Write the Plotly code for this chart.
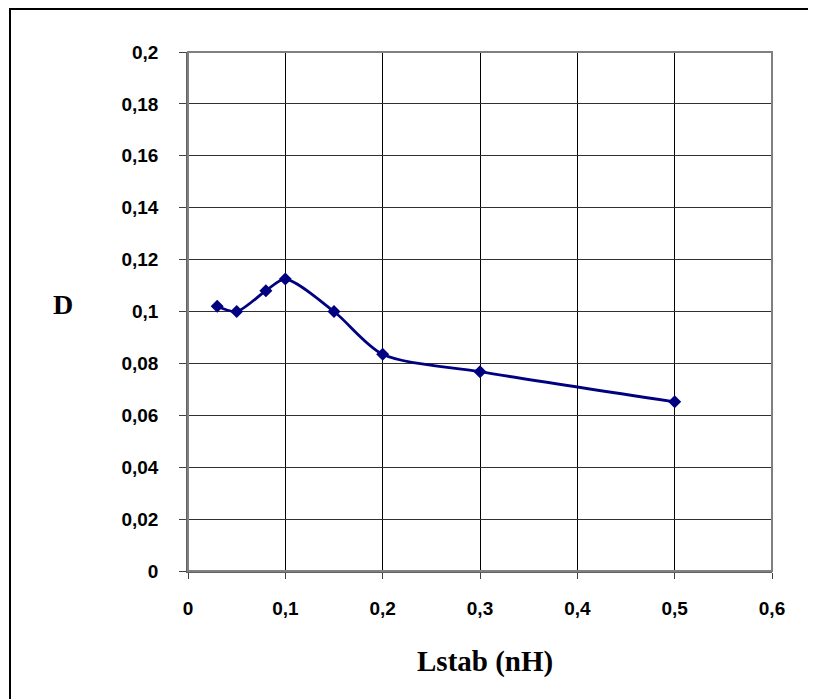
import plotly.graph_objects as go

lstab = [0.03, 0.05, 0.08, 0.1, 0.15, 0.2, 0.3, 0.5]
d_vals = [0.102, 0.100, 0.108, 0.1125, 0.100, 0.0835, 0.0768, 0.0652]

x_ticks = [0, 0.1, 0.2, 0.3, 0.4, 0.5, 0.6]
x_labels = ["0", "0,1", "0,2", "0,3", "0,4", "0,5", "0,6"]
y_ticks = [0, 0.02, 0.04, 0.06, 0.08, 0.1, 0.12, 0.14, 0.16, 0.18, 0.2]
y_labels = ["0", "0,02", "0,04", "0,06", "0,08", "0,1", "0,12", "0,14", "0,16", "0,18", "0,2"]

# page has an 8px body margin; figure starts at (8, 8)
OFF = 8
W, H = 808, 691
L, T = 188 - OFF, 52 - OFF
R = W - (772 - OFF)
B = H - (571 - OFF)
pw, ph = W - L - R, H - T - B

fig = go.Figure()
fig.add_trace(go.Scatter(
    x=lstab, y=d_vals, mode="lines+markers",
    line=dict(color="#000080", width=2.8, shape="spline", smoothing=0.8),
    marker=dict(symbol="diamond", size=10, color="#000080"),
    showlegend=False, cliponaxis=False,
))

tickfont = dict(family="Liberation Sans, Arial", size=19, color="black", weight="bold")
fig.update_layout(
    width=W, height=H,
    margin=dict(l=L, r=R, t=T, b=B, pad=0),
    paper_bgcolor="white", plot_bgcolor="white",
    xaxis=dict(
        range=[0, 0.6], tickvals=x_ticks, ticktext=x_labels,
        showgrid=True, gridcolor="black", gridwidth=1,
        zeroline=False, showline=True, linecolor="#606060", linewidth=1.5,
        mirror=False, ticks="outside", ticklen=6, tickcolor="#404040",
        tickfont=tickfont, ticklabelstandoff=13,
    ),
    yaxis=dict(
        range=[0, 0.2], tickvals=y_ticks, ticktext=y_labels,
        showgrid=True, gridcolor="#303030", gridwidth=1.2,
        zeroline=False, showline=True, linecolor="#606060", linewidth=1.5,
        ticks="outside", ticklen=7, tickcolor="#404040",
        tickfont=tickfont, ticklabelstandoff=17,
    ),
    font=dict(family="Liberation Sans, Arial", size=16, color="black"),
)

# plot area border (top and right, gray)
fig.add_shape(type="rect", xref="paper", yref="paper", x0=0, y0=0, x1=1, y1=1,
              line=dict(color="#808080", width=2), layer="above")

def px_to_paper_x(px):
    return (px - OFF - L) / pw

def px_to_paper_y(py):
    return 1 - (py - OFF - T) / ph

# outer chart frame (black): top and left edges only visible
fig.add_shape(type="line", xref="paper", yref="paper",
              x0=px_to_paper_x(9), x1=px_to_paper_x(830),
              y0=px_to_paper_y(9), y1=px_to_paper_y(9),
              line=dict(color="black", width=2))
fig.add_shape(type="line", xref="paper", yref="paper",
              x0=px_to_paper_x(10), x1=px_to_paper_x(10),
              y0=px_to_paper_y(8), y1=px_to_paper_y(720),
              line=dict(color="black", width=2))

fig.add_annotation(text="<b>Lstab (nH)</b>", xref="paper", yref="paper",
                   x=px_to_paper_x(485), y=px_to_paper_y(661),
                   showarrow=False, xanchor="center", yanchor="middle",
                   font=dict(family="Liberation Serif, Times New Roman", size=29, color="black"))
fig.add_annotation(text="<b>D</b>", xref="paper", yref="paper",
                   x=px_to_paper_x(63), y=px_to_paper_y(304),
                   showarrow=False, xanchor="center", yanchor="middle",
                   font=dict(family="Liberation Serif, Times New Roman", size=28, color="black"))

fig.write_html("out.html", post_script="document.body.style.overflow='hidden';")
